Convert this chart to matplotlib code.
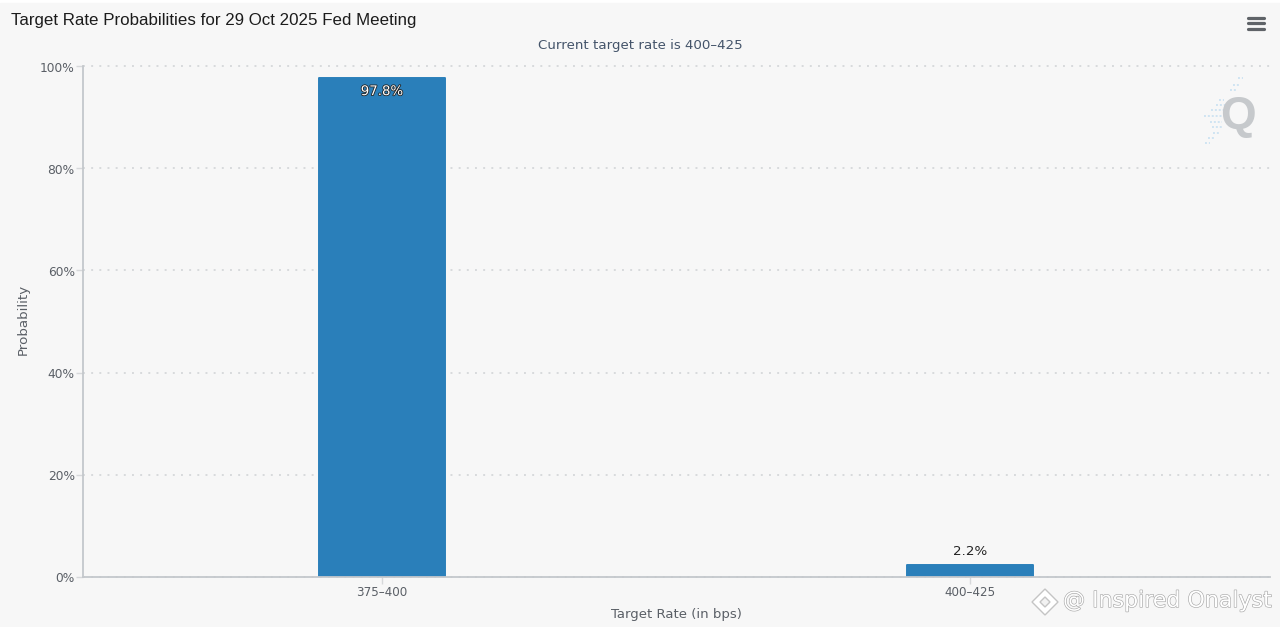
import matplotlib
matplotlib.use("Agg")
import matplotlib.pyplot as plt
import matplotlib.patheffects as pe
from matplotlib.lines import Line2D
from matplotlib.patches import Polygon

categories = ["375–400", "400–425"]
probabilities = [97.8, 2.2]
bar_labels = ["97.8%", "2.2%"]
y_ticks = [0, 20, 40, 60, 80, 100]
y_tick_labels = ["0%", "20%", "40%", "60%", "80%", "100%"]

W, H = 1280, 627
BG = "#f7f7f7"
BLUE = "#2a7fba"
AX_C = "#c4c8cc"
TXT = "#5a5f66"
BODY = "DejaVu Sans"

def fx(px): return px / W
def fy(py): return 1 - py / H

fig = plt.figure(figsize=(W / 100, H / 100), dpi=100, facecolor="white")
fig.patches.append(plt.Rectangle((0, 0), 1, fy(3), transform=fig.transFigure, color=BG, zorder=-5))

L, R, T, B = 83, 1270, 66.5, 576.5
ax = fig.add_axes([fx(L), fy(B), fx(R - L), (B - T) / H], facecolor=BG)
x = list(range(len(categories)))
bars = ax.bar(x, probabilities, width=0.215, color=BLUE, edgecolor=BLUE,
              linewidth=1.4, joinstyle="round", zorder=3)
ax.set_xlim(-0.5085, 1.51)
ax.set_ylim(0, 100)

ax.set_yticks(y_ticks)
ax.set_yticklabels(y_tick_labels, fontsize=8.8, color=TXT, family=BODY)
ax.set_xticks(x)
ax.set_xticklabels(categories, fontsize=8.6, color=TXT, family=BODY)
ax.tick_params(axis="y", length=5, width=1, color="#d6d8da", pad=1)
ax.tick_params(axis="x", length=5, width=1, color="#d6d8da", pad=2)
ax.grid(axis="y", color="#d8dadc", linewidth=1.4, linestyle=(0, (1, 3.2)), zorder=1)
for g in ax.get_ygridlines():
    g.set_clip_on(False)
ax.set_axisbelow(True)
for s in ["top", "right"]:
    ax.spines[s].set_visible(False)
ax.spines["left"].set_bounds(0, 100)
for s in ["left", "bottom"]:
    ax.spines[s].set_color(AX_C)
    ax.spines[s].set_linewidth(1.3)
    ax.spines[s].set_zorder(4)

ax.set_xlabel("Target Rate (in bps)", fontsize=9.5, color=TXT, family=BODY, labelpad=6)
ax.set_ylabel("Probability", fontsize=9.6, color=TXT, family=BODY, labelpad=7, y=0.505)

ax.annotate(bar_labels[0], (x[0], probabilities[0]), xytext=(0, -10), textcoords="offset points",
            ha="center", va="center", fontsize=9.6, color="white", family=BODY, zorder=5,
            path_effects=[pe.withStroke(linewidth=1.2, foreground="#222222")])
ax.annotate(bar_labels[1], (x[1], probabilities[1]), xytext=(0, 10), textcoords="offset points",
            ha="center", va="center", fontsize=9.6, color="#222222", family=BODY, zorder=5)

fig.text(fx(11), fy(20.5), "Target Rate Probabilities for 29 Oct 2025 Fed Meeting",
         fontsize=12.2, color="#1c1c1c", family="Liberation Sans", ha="left", va="center")
fig.text(fx(640), fy(45), "Current target rate is 400–425", fontsize=9.6, color="#44546a",
         family=BODY, ha="center", va="center")

# menu icon
for py in (17.6, 23.3, 29):
    fig.add_artist(Line2D([fx(1248), fx(1264)], [fy(py), fy(py)], color="#5f6368", lw=2.3,
                          solid_capstyle="round"))

# logo
fig.text(fx(1238), fy(117), "Q", fontsize=33, fontweight="bold", color="#c6c9cc",
         family="Liberation Sans", ha="center", va="center", zorder=2)
for py, x0, x1 in [(78, 1238, 1243), (85, 1233, 1239), (90, 1230, 1236), (100, 1219, 1224),
                   (105, 1216, 1226), (110, 1211, 1226), (116, 1204, 1222), (122, 1210, 1222),
                   (127, 1212, 1222), (133, 1213, 1220), (138, 1208, 1214), (143, 1205, 1210)]:
    fig.add_artist(Line2D([fx(x0), fx(x1)], [fy(py), fy(py)], color="#cfe4f2", lw=1.4,
                          linestyle=(0, (1, 1))))

# watermark
outline = [pe.withStroke(linewidth=0.9, foreground="#a8a8a8")]
fig.text(fx(1063), fy(601), "@ Inspired Onalyst", fontsize=15.9, color="white", family=BODY,
         ha="left", va="center", path_effects=outline, zorder=6)
cx, cy, r = 1045, 602, 13
fig.add_artist(Polygon([(fx(cx - r), fy(cy)), (fx(cx), fy(cy - r)), (fx(cx + r), fy(cy)), (fx(cx), fy(cy + r))],
                       closed=True, facecolor="white", edgecolor="#c4c4c4", lw=1, zorder=6))
r2 = 5
fig.add_artist(Polygon([(fx(cx - r2), fy(cy)), (fx(cx), fy(cy - r2)), (fx(cx + r2), fy(cy)), (fx(cx), fy(cy + r2))],
                       closed=True, facecolor="#f2f2f2", edgecolor="#c4c4c4", lw=1, zorder=7))

fig.savefig("out.png", dpi=100, facecolor=fig.get_facecolor())
